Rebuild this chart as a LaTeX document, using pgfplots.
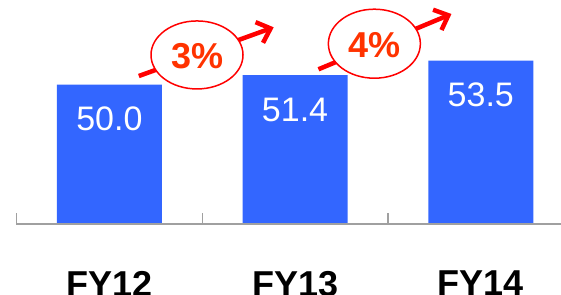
\documentclass[border=0pt]{standalone}
\usepackage{fontspec}
\setmainfont{Liberation Sans}
\usepackage{pgfplots}
\pgfplotsset{compat=1.18}
\usetikzlibrary{arrows.meta}
\definecolor{barblue}{HTML}{3366FF}
\definecolor{pctred}{HTML}{FF3300}
\definecolor{axgray}{HTML}{A0A0A0}
\begin{document}
\begin{tikzpicture}
\begin{axis}[
  at={(16.5pt,70pt)}, anchor=south west,
  scale only axis, width=544.5pt, height=224pt,
  xmin=-0.5, xmax=2.432, ymin=29.7, ymax=62.35,
  axis y line=none, axis x line*=bottom,
  x axis line style={draw=none},
  xtick={0,1,2}, xticklabels={FY12,FY13,FY14},
  major x tick style={draw=none},
  xticklabel style={font=\fontsize{36}{40}\selectfont\bfseries, anchor=north, inner sep=0pt, yshift=-42.7pt},
  ybar, bar width=105pt,
  clip=false,
  nodes near coords={\pgfmathprintnumber[fixed,fixed zerofill,precision=1,assume math mode=true]{\pgfplotspointmeta}},
  every node near coord/.append style={anchor=center, yshift=-34.5pt, text=white, font=\fontsize{34}{40}\selectfont},
]
\addplot[fill=barblue, draw=none] coordinates {(0,50.0) (1,51.4) (2,53.5)};

\draw[axgray, line width=1.5pt] (axis cs:-0.5,29.7) -- (axis cs:2.432,29.7);
\draw[axgray, line width=1.2pt] (axis cs:-0.5,29.7) -- (axis cs:-0.5,31.3);
\draw[axgray, line width=1.2pt] (axis cs:0.5,29.7) -- (axis cs:0.5,31.3);
\draw[axgray, line width=1.2pt] (axis cs:1.5,29.7) -- (axis cs:1.5,31.3);

\draw[red, line width=4.5pt, -{Straight Barb[length=12pt,width=22pt]}] (axis cs:0.1586,51.27) -- (axis cs:0.885,58.37);
\draw[red, line width=1.5pt, fill=white] (axis cs:0.472,54.34) ellipse [x radius=46pt, y radius=34pt];
\node[text=pctred, font=\fontsize{36}{40}\selectfont\bfseries] at (axis cs:0.475,54.2) {3\%};

\draw[red, line width=4.5pt, -{Straight Barb[length=12pt,width=22pt]}] (axis cs:1.126,52.25) -- (axis cs:1.842,60.31);
\draw[red, line width=1.5pt, fill=white] (axis cs:1.427,55.98) ellipse [x radius=46pt, y radius=34.5pt];
\node[text=pctred, font=\fontsize{36}{40}\selectfont\bfseries] at (axis cs:1.43,55.8) {4\%};
\end{axis}
\pgfresetboundingbox
\path[use as bounding box] (0,0) rectangle (561pt,294pt);
\end{tikzpicture}
\end{document}
